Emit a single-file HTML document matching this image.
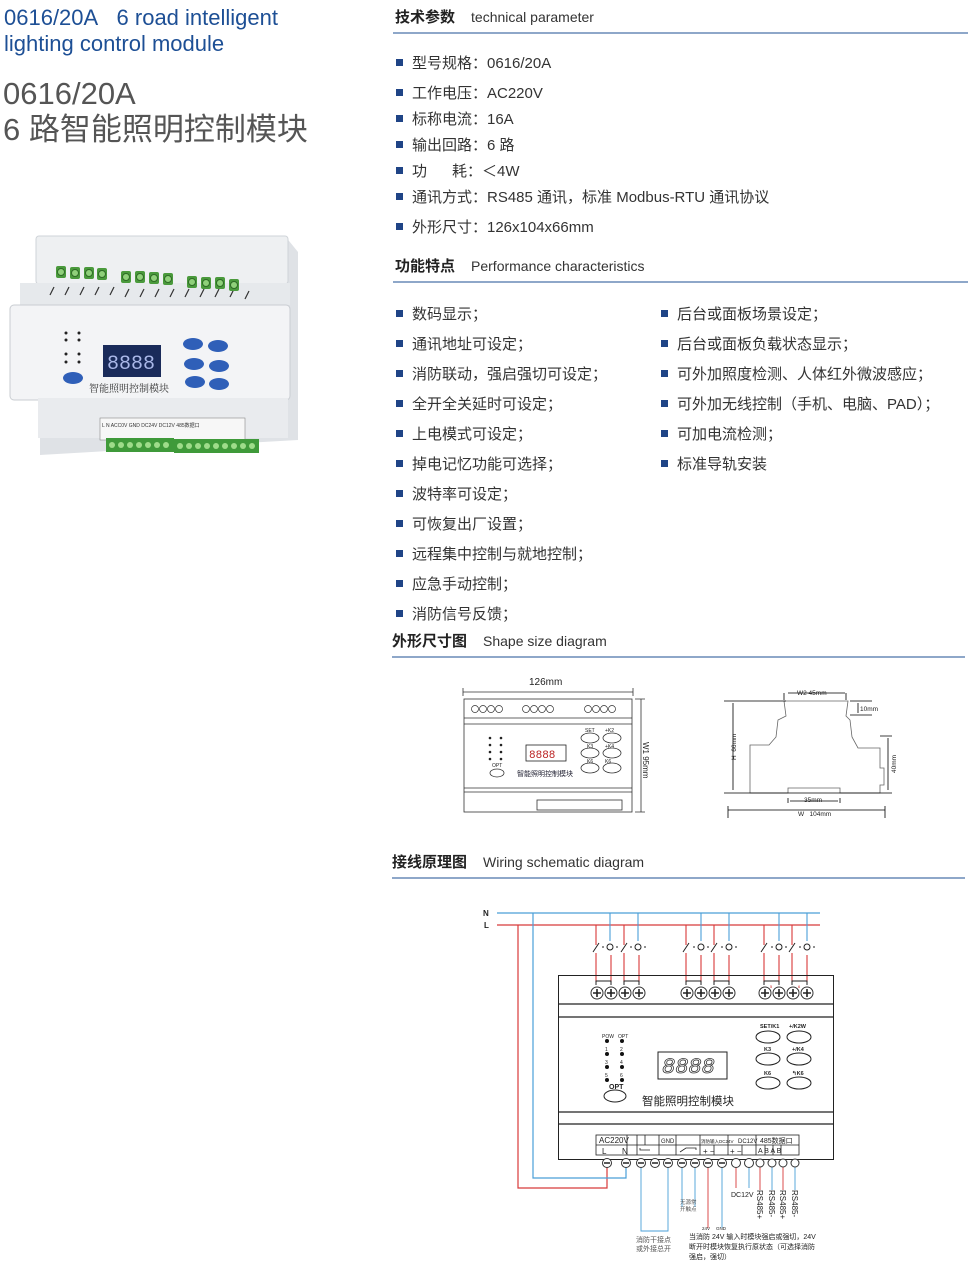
<!DOCTYPE html>
<html><head><meta charset="utf-8">
<style>
body{margin:0;width:978px;height:1265px;background:#fff;position:relative;overflow:hidden;font-family:"Liberation Sans","Noto Sans CJK SC",sans-serif;color:#333}
.a{position:absolute;white-space:nowrap}
.t1{left:4px;top:5px;font-size:22px;line-height:26px;color:#1d4f95}
.t2{left:3px;top:76px;font-size:31px;line-height:36px;color:#555}
.h{font-size:15px;color:#222;font-weight:bold}
.h span{font-weight:normal;margin-left:16px;font-size:14px;color:#333}
.ln{position:absolute;height:2px;background:#8ea7c9;left:393px;width:575px}
.li{font-size:15px;color:#333}
.li:before{content:"";display:inline-block;width:7px;height:7px;background:#1f4486;margin-right:9px;vertical-align:2px}
</style></head><body>
<div class="a t1">0616/20A&nbsp;&nbsp;&nbsp;6 road intelligent<br>lighting control module</div>
<div class="a t2">0616/20A<br>6 路智能照明控制模块</div>

<div class="a h" style="left:395px;top:6px">技术参数<span>technical parameter</span></div>
<div class="ln" style="top:32px"></div>
<div class="a li" style="left:396px;top:52px">型号规格：0616/20A</div>
<div class="a li" style="left:396px;top:82px">工作电压：AC220V</div>
<div class="a li" style="left:396px;top:108px">标称电流：16A</div>
<div class="a li" style="left:396px;top:134px">输出回路：6 路</div>
<div class="a li" style="left:396px;top:160px">功&nbsp;&nbsp;&nbsp;&nbsp;&nbsp;&nbsp;耗：＜4W</div>
<div class="a li" style="left:396px;top:186px">通讯方式：RS485 通讯，标准 Modbus-RTU 通讯协议</div>
<div class="a li" style="left:396px;top:216px">外形尺寸：126x104x66mm</div>

<div class="a h" style="left:395px;top:255px">功能特点<span>Performance characteristics</span></div>
<div class="ln" style="top:281px"></div>
<div class="a li" style="left:396px;top:303px">数码显示；</div>
<div class="a li" style="left:396px;top:333px">通讯地址可设定；</div>
<div class="a li" style="left:396px;top:363px">消防联动，强启强切可设定；</div>
<div class="a li" style="left:396px;top:393px">全开全关延时可设定；</div>
<div class="a li" style="left:396px;top:423px">上电模式可设定；</div>
<div class="a li" style="left:396px;top:453px">掉电记忆功能可选择；</div>
<div class="a li" style="left:396px;top:483px">波特率可设定；</div>
<div class="a li" style="left:396px;top:513px">可恢复出厂设置；</div>
<div class="a li" style="left:396px;top:543px">远程集中控制与就地控制；</div>
<div class="a li" style="left:396px;top:573px">应急手动控制；</div>
<div class="a li" style="left:396px;top:603px">消防信号反馈；</div>
<div class="a li" style="left:661px;top:303px">后台或面板场景设定；</div>
<div class="a li" style="left:661px;top:333px">后台或面板负载状态显示；</div>
<div class="a li" style="left:661px;top:363px">可外加照度检测、人体红外微波感应；</div>
<div class="a li" style="left:661px;top:393px">可外加无线控制（手机、电脑、PAD）；</div>
<div class="a li" style="left:661px;top:423px">可加电流检测；</div>
<div class="a li" style="left:661px;top:453px">标准导轨安装</div>

<div class="a h" style="left:392px;top:630px">外形尺寸图<span>Shape size diagram</span></div>
<div class="ln" style="top:656px;left:392px;width:573px"></div>
<div class="a h" style="left:392px;top:851px">接线原理图<span>Wiring schematic diagram</span></div>
<div class="ln" style="top:877px;left:392px;width:573px"></div>

<svg class="a" style="left:0;top:0" width="978" height="1265" viewBox="0 0 978 1265" font-family="Liberation Sans,Noto Sans CJK SC,sans-serif">
<defs>
<g id="sc"><circle r="6" fill="#fff" stroke="#333" stroke-width="1"/><path d="M-4 0H4M0-4V4" stroke="#222" stroke-width="1.6"/></g>
<g id="gs"><rect x="-5" y="-6" width="10" height="12" rx="2" fill="#4a9a3c"/><circle r="3.5" fill="#8fd07a" stroke="#2e6b26"/></g>
<g id="bs"><circle r="4.5" fill="#fff" stroke="#333"/><path d="M-3 0H3" stroke="#222" stroke-width="1.5"/></g>
</defs>

<!-- product photo -->
<g>
<path d="M40 240 L285 236 L298 252 L298 440 L40 455 Z" fill="#dfe2e6"/>
<rect x="36" y="236" width="252" height="48" rx="3" fill="#eef0f2" stroke="#cfd3d8"/>
<rect x="20" y="283" width="270" height="22" fill="#e6e9ec"/>
<rect x="10" y="305" width="280" height="95" rx="4" fill="#f3f4f6" stroke="#c9cdd2"/>
<rect x="38" y="398" width="250" height="40" fill="#e9ebee"/>
<g fill="none" stroke="#333" stroke-width="1.2">
<path d="M50 295l4-8M65 295l4-8M80 295l4-8M95 295l4-8M110 295l4-8M125 297l4-8M140 297l4-8M155 297l4-8M170 297l4-8M185 297l4-8M200 297l4-8M215 297l4-8M230 297l4-8M245 299l4-8"/>
</g>
<use href="#gs" x="61" y="272"/><use href="#gs" x="75" y="273"/><use href="#gs" x="89" y="273"/><use href="#gs" x="102" y="274"/>
<use href="#gs" x="126" y="277"/><use href="#gs" x="140" y="277"/><use href="#gs" x="154" y="278"/><use href="#gs" x="168" y="279"/>
<use href="#gs" x="192" y="282"/><use href="#gs" x="206" y="283"/><use href="#gs" x="220" y="283"/><use href="#gs" x="234" y="285"/>
<rect x="103" y="345" width="58" height="32" fill="#1a2b5a"/>
<text x="107" y="369" font-size="20" fill="#aab8e8" font-family="Liberation Mono,monospace">8888</text>
<g fill="#2f5fb8"><ellipse cx="193" cy="344" rx="10" ry="6"/><ellipse cx="218" cy="346" rx="10" ry="6"/><ellipse cx="194" cy="364" rx="10" ry="6"/><ellipse cx="219" cy="366" rx="10" ry="6"/><ellipse cx="195" cy="382" rx="10" ry="6"/><ellipse cx="219" cy="384" rx="10" ry="6"/><ellipse cx="73" cy="378" rx="10" ry="6"/></g>
<g fill="#222"><circle cx="66" cy="333" r="1.5"/><circle cx="66" cy="340" r="1.5"/><circle cx="66" cy="354" r="1.5"/><circle cx="66" cy="362" r="1.5"/><circle cx="79" cy="333" r="1.5"/><circle cx="79" cy="340" r="1.5"/><circle cx="79" cy="354" r="1.5"/><circle cx="79" cy="362" r="1.5"/></g>
<text x="89" y="392" font-size="10" fill="#333" font-family="Liberation Serif,Noto Serif CJK SC,serif">智能照明控制模块</text>
<rect x="100" y="418" width="145" height="22" fill="#f7f7f7" stroke="#888" stroke-width="0.6"/>
<text x="102" y="427" font-size="5" fill="#333">L N  ACC0V    GND  DC24V DC12V 485数据口</text>
<rect x="106" y="438" width="68" height="14" fill="#3f9a3a"/><rect x="174" y="439" width="85" height="14" fill="#3f9a3a"/>
<g fill="#9edc8a"><circle cx="112" cy="445" r="3"/><circle cx="121" cy="445" r="3"/><circle cx="130" cy="445" r="3"/><circle cx="139" cy="445" r="3"/><circle cx="148" cy="445" r="3"/><circle cx="157" cy="445" r="3"/><circle cx="166" cy="445" r="3"/><circle cx="180" cy="446" r="3"/><circle cx="189" cy="446" r="3"/><circle cx="198" cy="446" r="3"/><circle cx="207" cy="446" r="3"/><circle cx="216" cy="446" r="3"/><circle cx="225" cy="446" r="3"/><circle cx="234" cy="446" r="3"/><circle cx="243" cy="446" r="3"/><circle cx="252" cy="446" r="3"/></g>
</g>

<!-- shape diagram front -->
<g stroke="#333" fill="none" stroke-width="0.8">
<text x="529" y="685" font-size="10" fill="#222" stroke="none">126mm</text>
<path d="M463 692H633M463 688v8M633 688v8"/>
<rect x="464" y="699" width="168" height="113"/>
<path d="M464 718H632M464 724H632M464 788H632M464 792H632"/>
<path d="M635 699H645M635 812H645M641 699V812"/>
<text transform="translate(643 742) rotate(90)" font-size="8" fill="#222" stroke="none">W1 95mm</text>
<rect x="526" y="745" width="40" height="16" stroke="#222"/>
<text x="529" y="758" font-size="11" fill="#b22" stroke="none" font-family="Liberation Mono,monospace">8888</text>
<text x="517" y="776" font-size="7" fill="#223" stroke="none">智能照明控制模块</text>
<ellipse cx="590" cy="738" rx="9" ry="5"/><ellipse cx="612" cy="738" rx="9" ry="5"/><ellipse cx="590" cy="753" rx="9" ry="5"/><ellipse cx="612" cy="753" rx="9" ry="5"/><ellipse cx="590" cy="768" rx="9" ry="5"/><ellipse cx="612" cy="768" rx="9" ry="5"/><ellipse cx="497" cy="773" rx="7" ry="4"/>
<rect x="537" y="800" width="85" height="10"/>
</g>
<g font-size="5" fill="#222"><text x="585" y="732">SET</text><text x="605" y="732">+K2</text><text x="587" y="748">K3</text><text x="605" y="748">+K4</text><text x="587" y="763">K6</text><text x="605" y="763">K6</text><text x="492" y="767">OPT</text></g>
<g fill="#222"><circle cx="490" cy="738" r="1.3"/><circle cx="490" cy="745" r="1.3"/><circle cx="490" cy="752" r="1.3"/><circle cx="490" cy="759" r="1.3"/><circle cx="501" cy="738" r="1.3"/><circle cx="501" cy="745" r="1.3"/><circle cx="501" cy="752" r="1.3"/><circle cx="501" cy="759" r="1.3"/></g>
<g stroke="#333" fill="#fff" stroke-width="0.7">
<circle cx="475" cy="709" r="3.5"/><circle cx="483" cy="709" r="3.5"/><circle cx="491" cy="709" r="3.5"/><circle cx="499" cy="709" r="3.5"/>
<circle cx="526" cy="709" r="3.5"/><circle cx="534" cy="709" r="3.5"/><circle cx="542" cy="709" r="3.5"/><circle cx="550" cy="709" r="3.5"/>
<circle cx="588" cy="709" r="3.5"/><circle cx="596" cy="709" r="3.5"/><circle cx="604" cy="709" r="3.5"/><circle cx="612" cy="709" r="3.5"/>
</g>

<!-- side profile -->
<path d="M784 701 L786 716 L778 720 L776 737 L769 745 H750 V793 H788 V788 H840 V793 H880 V785 H884 V768 H880 V748 H858 L852 737 L850 720 L846 716 L848 701 Z" fill="none" stroke="#666" stroke-width="0.8"/>
<g stroke="#000" fill="none" stroke-width="0.8">
<path d="M724 701H786M724 793H880M733 703V790M784 693V700M846 693V700M788 693H845M850 701H872M850 715H872M858 703V713M880 736H892M888 738V790M880 793H892M788 798V803M840 798V803M790 801H838M728 810H885M728 806V818M885 806V818"/>
</g>
<g font-size="6.5" fill="#222">
<text x="797" y="695">W2 45mm</text><text x="860" y="711">10mm</text>
<text transform="translate(736 760) rotate(-90)">H&#160;&#160;66mm</text>
<text transform="translate(896 773) rotate(-90)">40mm</text>
<text x="804" y="802">35mm</text><text x="798" y="816">W&#160;&#160;&#160;104mm</text>
</g>

<!-- wiring diagram -->
<g font-size="8" font-weight="bold" fill="#222"><text x="483" y="916">N</text><text x="484" y="928">L</text></g>
<path d="M497 913H820" stroke="#4a9fd8" stroke-width="1.2"/>
<path d="M497 925H820" stroke="#d83a3a" stroke-width="1.2"/>
<path d="M518 925V1188H607V1164" fill="none" stroke="#d83a3a" stroke-width="1.2"/>
<path d="M533 913V1178H626V1164" fill="none" stroke="#4a9fd8" stroke-width="1.2"/>
<g stroke="#d83a3a" stroke-width="1.1" fill="none">
<path d="M596 925V945M596 953V982M624 925V945M624 953V982M686 925V945M686 953V982M714 925V945M714 953V982M764 925V945M764 953V982M792 925V945M792 953V982"/>
<path d="M611 955V982M639 955V982M701 955V982M729 955V982M779 955V982M807 955V982"/>
</g>
<g stroke="#4a9fd8" stroke-width="1.1"><path d="M610 913V941M638 913V941M701 913V941M729 913V941M779 913V941M807 913V941"/></g>
<g stroke="#222" stroke-width="1" fill="none">
<path d="M593 952l6-9M621 952l6-9M683 952l6-9M711 952l6-9M761 952l6-9M789 952l6-9"/>
<circle cx="610" cy="947" r="3"/><circle cx="638" cy="947" r="3"/><circle cx="701" cy="947" r="3"/><circle cx="729" cy="947" r="3"/><circle cx="779" cy="947" r="3"/><circle cx="807" cy="947" r="3"/>
<path d="M604 947h-2M618 947h-2M632 947h-2M646 947h-2M695 947h-2M709 947h-2M723 947h-2M737 947h-2M773 947h-2M787 947h-2M801 947h-2M815 947h-2"/>
<rect x="558.5" y="975.5" width="275" height="184"/>
<path d="M559 1004H833M559 1017H833M559 1112H833M559 1124H833" stroke-width="1.2"/>
<path d="M596 985V981H604M611 985V981H603M624 985V981H632M639 985V981H631M686 985V981H694M701 985V981H693M714 985V981H722M729 985V981H721M764 985V981H772M779 985V981H771M792 985V981H800M807 985V981H799"/>
</g>
<use href="#sc" x="597" y="993"/><use href="#sc" x="611" y="993"/><use href="#sc" x="625" y="993"/><use href="#sc" x="639" y="993"/>
<use href="#sc" x="687" y="993"/><use href="#sc" x="701" y="993"/><use href="#sc" x="715" y="993"/><use href="#sc" x="729" y="993"/>
<use href="#sc" x="765" y="993"/><use href="#sc" x="779" y="993"/><use href="#sc" x="793" y="993"/><use href="#sc" x="807" y="993"/>
<g font-size="4" fill="#c22"><text x="770" y="988">5</text><text x="798" y="988">6</text></g>
<g fill="#111"><circle cx="607" cy="1041" r="2"/><circle cx="607" cy="1054" r="2"/><circle cx="607" cy="1067" r="2"/><circle cx="607" cy="1080" r="2"/><circle cx="622" cy="1041" r="2"/><circle cx="622" cy="1054" r="2"/><circle cx="622" cy="1067" r="2"/><circle cx="622" cy="1080" r="2"/></g>
<g font-size="5" fill="#222"><text x="602" y="1038">POW</text><text x="618" y="1038">OPT</text><text x="605" y="1051">1</text><text x="620" y="1051">2</text><text x="605" y="1064">3</text><text x="620" y="1064">4</text><text x="605" y="1077">5</text><text x="620" y="1077">6</text></g>
<text x="609" y="1089" font-size="7" font-weight="bold" fill="#222">OPT</text>
<g stroke="#222" fill="none" stroke-width="1">
<ellipse cx="615" cy="1096" rx="11" ry="6"/>
<rect x="658" y="1052" width="69" height="27"/>
<ellipse cx="768" cy="1037" rx="12" ry="6"/><ellipse cx="799" cy="1037" rx="12" ry="6"/><ellipse cx="768" cy="1059" rx="12" ry="6"/><ellipse cx="799" cy="1059" rx="12" ry="6"/><ellipse cx="768" cy="1083" rx="12" ry="6"/><ellipse cx="799" cy="1083" rx="12" ry="6"/>
</g>
<text x="662" y="1073" font-size="22" fill="#fff" stroke="#333" stroke-width="0.8" font-style="italic" font-family="Liberation Mono,monospace">8888</text>
<text x="642" y="1105" font-size="11.5" fill="#222">智能照明控制模块</text>
<g font-size="5.5" font-weight="bold" fill="#222"><text x="760" y="1028">SET/K1</text><text x="789" y="1028">+/K2W</text><text x="764" y="1051">K3</text><text x="792" y="1051">+/K4</text><text x="764" y="1075">K6</text><text x="792" y="1075">↰K6</text></g>
<g stroke="#222" fill="none" stroke-width="0.8">
<rect x="596" y="1135" width="203" height="20"/>
<path d="M596 1145H799M627 1135V1155M637 1135V1155M645 1145V1135M659 1135V1155M676 1135V1155M700 1135V1155M728 1135V1155M756 1135V1155M742 1145V1155M714 1145V1155M765 1145V1155M773 1145V1155M781 1145V1155"/>
<path d="M640 1148v2h10M680 1152l6-4h10v2"/>
</g>
<g font-size="8" fill="#222"><text x="599" y="1143">AC220V</text><text x="602" y="1154">L</text><text x="622" y="1154">N</text><text x="738" y="1143" font-size="6">DC12V</text><text x="760" y="1143" font-size="7">485数据口</text><text x="758" y="1153" font-size="7">A B A B</text><text x="701" y="1143" font-size="4.5">消防输入DC24V</text><text x="661" y="1143" font-size="6">GND</text><text x="703" y="1154">+ −</text><text x="730" y="1154">+ −</text></g>
<g fill="none" stroke-width="0.9">
<path d="M641 1164V1231H668V1164M682 1164V1207M695 1164V1207" stroke="#4a9fd8"/>
<path d="M708 1164V1228M736 1164V1188M760 1164V1190M783 1164V1190" stroke="#d83a3a"/>
<path d="M722 1164V1228M749 1164V1188M772 1164V1190M795 1164V1190" stroke="#4a9fd8"/>
</g>
<use href="#bs" x="607" y="1163"/><use href="#bs" x="626" y="1163"/><use href="#bs" x="641" y="1163"/><use href="#bs" x="655" y="1163"/><use href="#bs" x="668" y="1163"/><use href="#bs" x="682" y="1163"/><use href="#bs" x="695" y="1163"/><use href="#bs" x="708" y="1163"/><use href="#bs" x="722" y="1163"/>
<g stroke="#333" fill="#fff"><circle cx="736" cy="1163" r="4.5"/><circle cx="749" cy="1163" r="4.5"/><circle cx="760" cy="1163" r="4"/><circle cx="772" cy="1163" r="4"/><circle cx="783" cy="1163" r="4"/><circle cx="795" cy="1163" r="4"/></g>
<g font-size="8" fill="#222">
<text x="731" y="1197" font-size="7">DC12V</text>
<text transform="translate(757 1190) rotate(90)" font-size="8">RS485+</text>
<text transform="translate(769 1190) rotate(90)" font-size="8">RS485-</text>
<text transform="translate(780 1190) rotate(90)" font-size="8">RS485+</text>
<text transform="translate(792 1190) rotate(90)" font-size="8">RS485-</text>
<text x="680" y="1204" font-size="5.5" fill="#555">无源常</text><text x="680" y="1211" font-size="5.5" fill="#555">开触点</text>
<text x="636" y="1242" font-size="7" fill="#555">消防干接点</text><text x="636" y="1251" font-size="7" fill="#555">或外接总开</text>
<text x="702" y="1230" font-size="4.5">24V</text><text x="716" y="1230" font-size="4.5">GND</text>
<text x="689" y="1239" font-size="7">当消防 24V 输入时模块强启或强切，24V</text>
<text x="689" y="1249" font-size="7">断开时模块恢复执行原状态（可选择消防</text>
<text x="689" y="1259" font-size="7">强启，强切）</text>
</g>
</svg>
</body></html>
